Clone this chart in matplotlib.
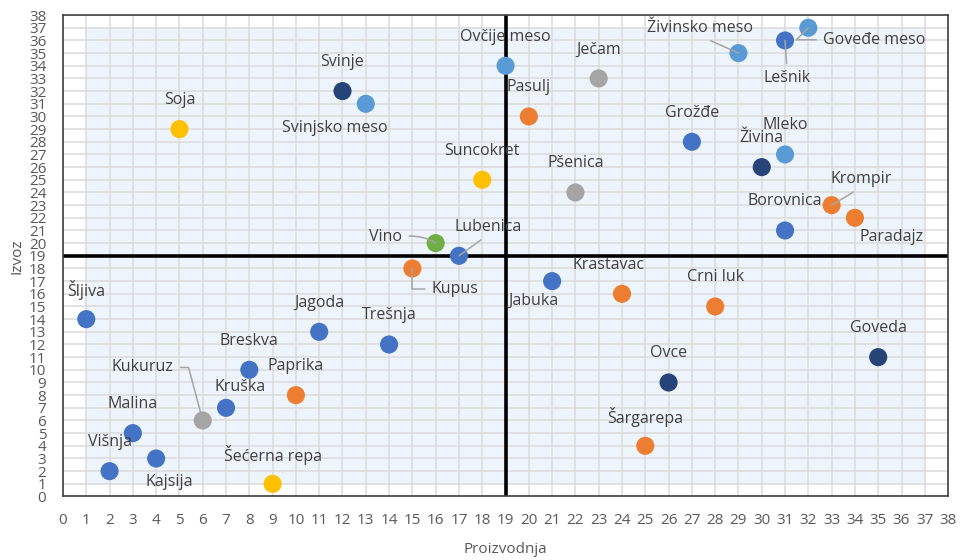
import matplotlib
matplotlib.use("Agg")
import matplotlib.pyplot as plt
from matplotlib.patches import Rectangle

plt.rcParams['font.family'] = ['Open Sans', 'DejaVu Sans']

# data
names = ["Soja", "Svinje", "Svinjsko meso", "Ovčije meso", "Ječam", "Pasulj",
         "Suncokret", "Pšenica", "Vino", "Lubenica", "Kupus", "Jabuka",
         "Krastavac", "Crni luk", "Šljiva", "Jagoda", "Trešnja", "Goveda",
         "Breskva", "Ovce", "Paprika", "Kruška", "Kukuruz", "Malina",
         "Šargarepa", "Kajsija", "Višnja", "Šećerna repa", "Grožđe", "Živina",
         "Mleko", "Borovnica", "Krompir", "Paradajz", "Živinsko meso",
         "Lešnik", "Goveđe meso"]
proizvodnja = [5, 12, 13, 19, 23, 20, 18, 22, 16, 17, 15, 21, 24, 28, 1, 11, 14,
               35, 8, 26, 10, 7, 6, 3, 25, 4, 2, 9, 27, 30, 31, 31, 33, 34, 29,
               31, 32]
izvoz = [29, 32, 31, 34, 33, 30, 25, 24, 20, 19, 18, 17, 16, 15, 14, 13, 12,
         11, 10, 9, 8, 7, 6, 5, 4, 3, 2, 1, 28, 26, 27, 21, 23, 22, 35, 36, 37]
grupa = ["ind", "stoka", "meso", "meso", "zito", "povrce", "ind", "zito",
         "vino", "voce", "povrce", "voce", "povrce", "povrce", "voce", "voce",
         "voce", "stoka", "voce", "stoka", "povrce", "voce", "zito", "voce",
         "povrce", "voce", "voce", "ind", "voce", "stoka", "meso", "voce",
         "povrce", "povrce", "meso", "voce", "meso"]

colors = {"voce": "#4472C4", "meso": "#5B9BD5", "stoka": "#264478",
          "povrce": "#ED7D31", "zito": "#A5A5A5", "ind": "#FFC000",
          "vino": "#70AD47"}

# label offsets in pixels (default: centred above the point)
offsets = {"Svinjsko meso": (-31, -24), "Vino": (-50, 6), "Lubenica": (29, 29),
           "Kupus": (43, -21), "Jabuka": (-19, -20), "Krastavac": (-13, 29),
           "Kruška": (14, 21), "Kukuruz": (-60, 53), "Kajsija": (13, -24),
           "Krompir": (30, 26), "Paradajz": (37, -19),
           "Živinsko meso": (-38, 25), "Lešnik": (2, -38),
           "Goveđe meso": (66, -12)}
leaders = {"Vino": ((1, 0.5), "arc3,rad=-0.2"),
           "Lubenica": ((0.5, 0), "arc3"),
           "Kupus": ((0, 0.5), "angle,angleA=0,angleB=90,rad=0"),
           "Kukuruz": ((1, 0.5), "angle,angleA=0,angleB=105,rad=0"),
           "Krompir": ((0.5, 0), "arc3"),
           "Živinsko meso": ((0.5, 0), "arc3"),
           "Lešnik": ((0.5, 1), "arc3"),
           "Goveđe meso": ((0, 0.5), "angle,angleA=0,angleB=45,rad=0")}

fig = plt.figure(figsize=(9.6, 5.6), dpi=100)
ax = fig.add_axes([0.0656, 0.1134, 0.922, 0.8596])

ax.add_patch(Rectangle((1, 1), 36, 36, facecolor="#EEF4FC", edgecolor="none",
                       zorder=0.1))
ax.set_axisbelow(True)
ax.grid(True, color="#DADADA", lw=1.1)

ax.axvline(19, color="black", lw=2.6, zorder=2)
ax.axhline(19, color="black", lw=2.6, zorder=2)

for n, x, y, g in zip(names, proizvodnja, izvoz, grupa):
    ax.scatter(x, y, s=170, color=colors[g], edgecolor="none", zorder=4)
    dx, dy = offsets.get(n, (0, 29))
    kw = {}
    if n in leaders:
        rp, cs = leaders[n]
        kw["arrowprops"] = dict(arrowstyle="-", color="#A5A5A5", lw=1.1,
                                relpos=rp, connectionstyle=cs,
                                shrinkA=3, shrinkB=0)
    ax.annotate(n, (x, y), xytext=(dx, dy), textcoords="offset pixels",
                ha="center", va="center", fontsize=11.5, color="#404040",
                zorder=5, **kw)

ax.set_xlim(0, 38)
ax.set_ylim(0, 38)
ax.set_xticks(range(0, 39))
ax.set_yticks(range(0, 39))
ax.tick_params(length=0, labelsize=11, labelcolor="#595959")
ax.tick_params(axis="x", pad=12)
ax.tick_params(axis="y", pad=12)
for s in ax.spines.values():
    s.set_color("#404040")
    s.set_linewidth(1.2)

ax.set_xlabel("Proizvodnja", fontsize=11, color="#595959", labelpad=10)
ax.set_ylabel("Izvoz", fontsize=11, color="#595959", labelpad=3)

fig.savefig("out.png", dpi=100)
